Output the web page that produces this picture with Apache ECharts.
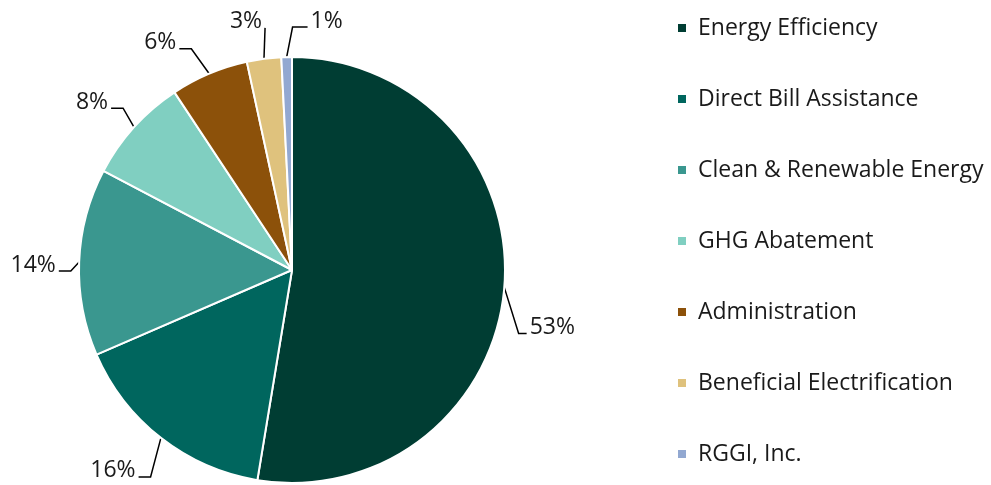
<!DOCTYPE html>
<html>
<head>
<meta charset="utf-8">
<script src="https://cdn.jsdelivr.net/npm/echarts@6/dist/echarts.min.js"></script>
<style>
  html, body { margin: 0; padding: 0; background: #fff; }
  #chart { width: 991px; height: 485px; }
</style>
</head>
<body>
<div id="chart"></div>
<script>
// 数据
const categories = ['Energy Efficiency', 'Direct Bill Assistance', 'Clean & Renewable Energy', 'GHG Abatement', 'Administration', 'Beneficial Electrification', 'RGGI, Inc.']
const shares = [52.6, 15.9, 14.2, 8.0, 5.9, 2.6, 0.8]
const colors = ['#003d33', '#00665e', '#3a978f', '#80cfc1', '#8c510a', '#dfc27d', '#92a8d1']

// 标签相对扇区中点的偏移（Excel 风格的引导线）
const labelOffsets = [[48, 40], [-48, 33], [-46, 3], [-42, -25], [-49, -31], [-18, -37], [40, -36]]
const labelTail = [8, 12, 12, 12, 12, 0, 15]

const chart = echarts.init(document.getElementById('chart'))

const option = {
  animation: false,
  color: colors,
  legend: {
    orient: 'vertical',
    left: 671,
    top: 10,
    itemWidth: 10,
    itemHeight: 10,
    itemGap: 45,
    icon: 'rect',
    textStyle: { fontFamily: 'Open Sans', fontSize: 23, color: '#1a1a1a', lineHeight: 26, padding: [0, 0, 0, 6] },
    data: categories
  },
  series: [
    {
      type: 'pie',
      center: [292, 270],
      radius: 213,
      startAngle: 90,
      clockwise: true,
      avoidLabelOverlap: false,
      itemStyle: { borderColor: '#fff', borderWidth: 2 },
      label: {
        show: true,
        position: 'outside',
        fontFamily: 'Open Sans',
        fontSize: 23,
        color: '#1a1a1a',
        formatter: p => Math.round(p.percent) + '%'
      },
      labelLine: {
        show: true,
        length: 15,
        length2: 8,
        lineStyle: { color: '#000', width: 1.5 }
      },
      labelLayout: p => {
        const i = p.dataIndex
        const start = p.labelLinePoints[0]
        const cx = start[0] + labelOffsets[i][0]
        const cy = start[1] + labelOffsets[i][1]
        const w = p.labelRect.width
        const right = cx > start[0]
        const edge = right ? cx - w / 2 - 3 : cx + w / 2 + 3
        const bend = right ? edge - labelTail[i] : edge + labelTail[i]
        const ly = cy + 6
        return {
          x: cx,
          y: cy,
          align: 'center',
          verticalAlign: 'middle',
          labelLinePoints: [start, [bend, ly], [edge, ly]]
        }
      },
      emphasis: { disabled: true },
      data: categories.map((name, i) => ({ name, value: shares[i] }))
    }
  ]
}

chart.setOption(option)
</script>
</body>
</html>
